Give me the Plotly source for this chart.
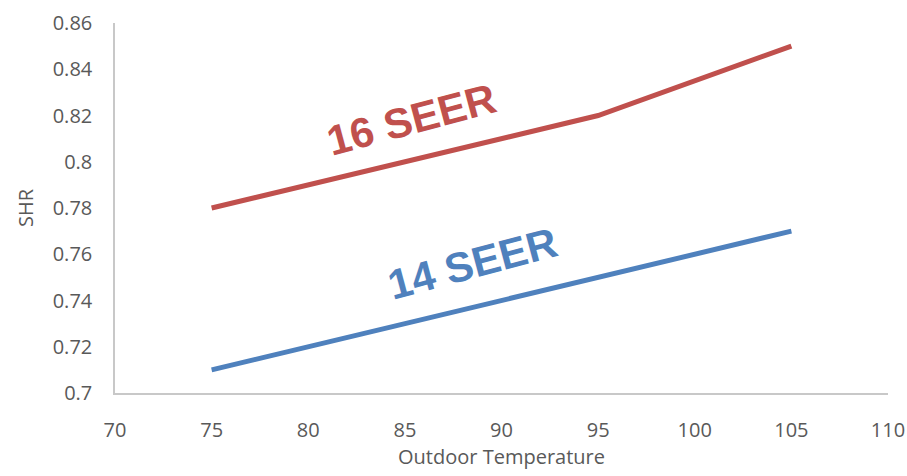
import plotly.graph_objects as go

temps = [75, 85, 95, 105]
shr_16 = [0.78, 0.80, 0.82, 0.85]
shr_14 = [0.71, 0.73, 0.75, 0.77]

x_ticks = [70, 75, 80, 85, 90, 95, 100, 105, 110]
y_ticks = [0.7, 0.72, 0.74, 0.76, 0.78, 0.8, 0.82, 0.84, 0.86]
y_labels = ["0.7", "0.72", "0.74", "0.76", "0.78", "0.8", "0.82", "0.84", "0.86"]

red = "#C0504D"
blue = "#4F81BD"
font = "Open Sans, sans-serif"

fig = go.Figure()
fig.add_trace(go.Scatter(x=temps, y=shr_16, mode="lines", line=dict(color=red, width=5), showlegend=False))
fig.add_trace(go.Scatter(x=temps, y=shr_14, mode="lines", line=dict(color=blue, width=5), showlegend=False))

fig.add_annotation(x=85.35, y=0.8184, text="<b>16 SEER</b>", showarrow=False,
                   textangle=-15, font=dict(family="Liberation Sans, Arial", size=42, color=red))
fig.add_annotation(x=88.5, y=0.7562, text="<b>14 SEER</b>", showarrow=False,
                   textangle=-15, font=dict(family="Liberation Sans, Arial", size=42, color=blue))

fig.update_layout(
    width=907, height=476,
    margin=dict(l=115, r=19, t=23, b=83),
    plot_bgcolor="white", paper_bgcolor="white",
    font=dict(family=font, size=20, color="#595959"),
)
fig.update_xaxes(range=[70, 110], tickvals=x_ticks, showgrid=False, zeroline=False, automargin=False,
                 showline=True, linecolor="#C8C8C8", linewidth=1.5, ticks="", ticklabelstandoff=18,
                 ticklabeloverflow="allow",
                 title=dict(text="Outdoor Temperature", font=dict(size=20, color="#595959"), standoff=8))
fig.update_yaxes(range=[0.7, 0.86], tickvals=y_ticks, ticktext=y_labels, showgrid=False, zeroline=False, automargin=False,
                 showline=True, linecolor="#C8C8C8", linewidth=1.5, ticks="", ticklabelstandoff=17,
                 title=dict(text="SHR", font=dict(size=20, color="#595959"), standoff=14))

fig.write_html("out.html", config={"displayModeBar": False},
               post_script="document.body.style.margin='0';document.body.style.overflow='hidden';")
